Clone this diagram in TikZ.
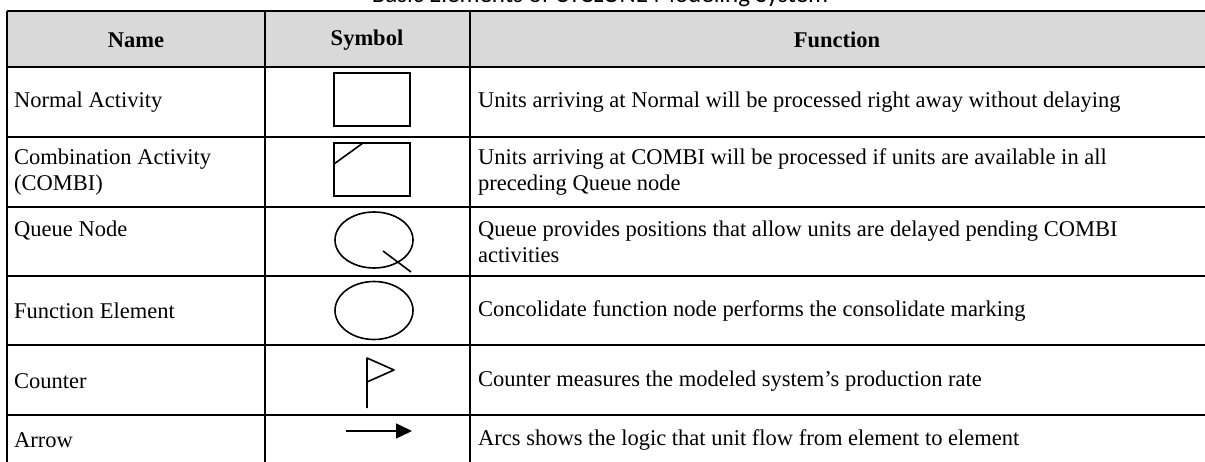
\documentclass[tikz,border=0pt]{standalone}
\usepackage{fontspec}
\usepackage{tikz}
\setmainfont{Liberation Serif}
\newfontfamily\titlefont{Carlito}
\usetikzlibrary{arrows.meta}
\definecolor{headgray}{rgb}{0.85,0.85,0.85}

\begin{document}
\begin{tikzpicture}[x=1pt, y=-1pt, namecell/.style = {anchor=west, inner sep=0pt, align=left, font=\fontsize{22.5}{26}\selectfont}, headcell/.style = {inner sep=0pt, font=\fontsize{22.5}{26}\selectfont\bfseries}, rule/.style = {line width=1.8pt}, symbol/.style = {line width=1.6pt}]
	\useasboundingbox (0,0) rectangle (1205,462);
	% cut-off caption above the table
	\begin{scope}
		\clip (0,0) rectangle (1205,462);
		\node[anchor=base, inner sep=0pt, font=\titlefont\fontsize{25}{30}\selectfont] (caption) at (600,2.5) {Basic Elements of CYCLONE Modeling System};
	\end{scope}
	% header
	\fill[headgray] (7,11) rectangle (1205,67);
	\node[headcell] (hname) at (136,40) {Name};
	\node[headcell] (hsymbol) at (367,40) {Symbol};
	\node[headcell] (hfunction) at (837,40) {Function};
	% grid
	\draw[rule] (7,11) -- (1205,11);
	\draw[line width=2.4pt] (7,67) -- (1205,67);
	\foreach \y in {137,207,276,345,415}
		\draw[rule] (7,\y) -- (1205,\y);
	\foreach \x in {7,265,470}
		\draw[rule] (\x,11) -- (\x,462);
	% names
	\node[namecell] (nnormal) at (14,102) {Normal Activity};
	\node[namecell] (ncombi) at (14,172) {Combination Activity\\(COMBI)};
	\node[namecell] (nqueue) at (14,231) {Queue Node};
	\node[namecell] (nfunction) at (14,311) {Function Element};
	\node[namecell] (ncounter) at (14,381) {Counter};
	\node[namecell] (narrow) at (14,440) {Arrow};
	% functions
	\node[namecell] (fnormal) at (478,102) {Units arriving at Normal will be processed right away without delaying};
	\node[namecell] (fcombi) at (478,172) {Units arriving at COMBI will be processed if units are available in all\\preceding Queue node};
	\node[namecell] (fqueue) at (478,242) {Queue provides positions that allow units are delayed pending COMBI\\activities};
	\node[namecell] (ffunction) at (478,311) {Concolidate function node performs the consolidate marking};
	\node[namecell] (fcounter) at (478,381) {Counter measures the modeled system’s production rate};
	\node[namecell] (farrow) at (478,440) {Arcs shows the logic that unit flow from element to element};
	% symbols
	\draw[symbol] (334,73) rectangle (410,126);
	\draw[symbol] (334,143) rectangle (410,196);
	\draw[symbol] (334,164) -- (363,143);
	\draw[symbol] (374,240) ellipse [x radius=39, y radius=28];
	\draw[symbol] (383,251) -- (411,272);
	\draw[symbol] (374,310.5) ellipse [x radius=39, y radius=29];
	\draw[symbol, line join=round] (367,408) -- (367,358) -- (394,370) -- (367,382);
	\draw[symbol, -{Triangle[length=16pt, width=15pt]}] (346,431) -- (412,431);
\end{tikzpicture}
\end{document}
